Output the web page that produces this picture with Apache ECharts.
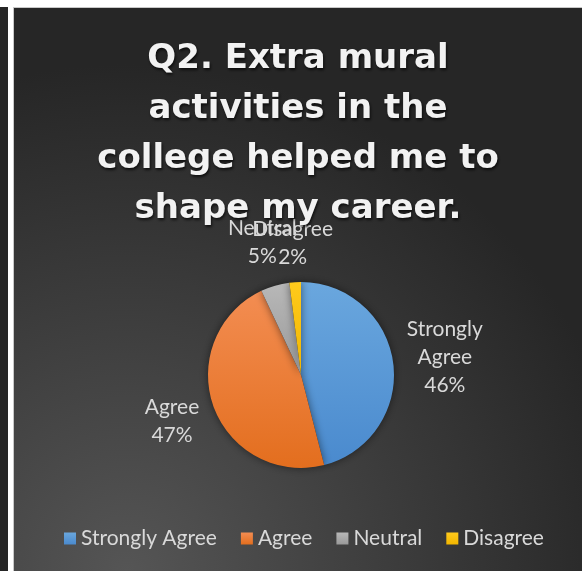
<!DOCTYPE html>
<html>
<head>
<meta charset="utf-8">
<script src="https://cdn.jsdelivr.net/npm/echarts@6/dist/echarts.min.js"></script>
<style>
  html, body { margin: 0; padding: 0; background: #fff; width: 582px; height: 571px; overflow: hidden; }
  #side { position: absolute; left: 0; top: 7px; width: 8px; height: 564px; background: #262626; }
  #chart { position: absolute; left: 13px; top: 7px; width: 568px; height: 563px;
           border-left: 1px solid #c8c8c8; border-top: 1px solid #c8c8c8; }
</style>
</head>
<body>
<div id="side"></div>
<div id="chart"></div>
<script>
const titleText = 'Q2. Extra mural\nactivities in the\ncollege helped me to\nshape my career.'
const categories = ['Strongly Agree', 'Agree', 'Neutral', 'Disagree']
const values = [46, 47, 5, 2]
const colorsTop = ['#6aa7de', '#f38d52', '#b8b8b8', '#ffca1c']
const colorsBottom = ['#4a8ace', '#e36e1e', '#999999', '#f2b600']

const CX = 287, CY = 367, R = 93, LABEL_GAP = 9
const total = values.reduce((a, b) => a + b, 0)

// mid angle of a slice, measured clockwise from 12 o'clock
function midAngle(i) {
  let s = 0
  for (let k = 0; k < i; k++) s += values[k]
  return (s + values[i] / 2) / total * Math.PI * 2
}

const myChart = echarts.init(document.getElementById('chart'))

const option = {
  backgroundColor: new echarts.graphic.RadialGradient(0.2, 1, 0.9, [
    { offset: 0, color: '#555555' },
    { offset: 1, color: '#262626' }
  ]),
  title: {
    text: titleText,
    left: 'center',
    top: 21,
    textStyle: {
      fontFamily: 'DejaVu Sans',
      fontSize: 34,
      fontWeight: 'bold',
      lineHeight: 50,
      color: '#f2f2f2',
      textShadowColor: 'rgba(0,0,0,0.7)',
      textShadowBlur: 3,
      textShadowOffsetX: 1,
      textShadowOffsetY: 2
    }
  },
  legend: {
    data: categories,
    left: 45,
    top: 515,
    icon: 'rect',
    itemWidth: 12,
    itemHeight: 12,
    itemGap: 24,
    textStyle: { fontFamily: 'Lato', fontSize: 21, color: '#d9d9d9' }
  },
  series: [{
    type: 'pie',
    center: [CX, CY],
    radius: R,
    startAngle: 90,
    clockwise: true,
    avoidLabelOverlap: false,
    itemStyle: {
      shadowColor: 'rgba(0,0,0,0.5)',
      shadowBlur: 8
    },
    label: {
      show: true,
      position: 'outside',
      fontFamily: 'Lato',
      fontSize: 21,
      lineHeight: 28,
      color: '#d9d9d9',
      formatter: (p) => p.name.replace(' ', '\n') + '\n' + p.percent + '%'
    },
    labelLine: { show: false },
    labelLayout: (p) => {
      const a = midAngle(p.dataIndex)
      const dx = Math.sin(a), dy = -Math.cos(a)
      const w = p.labelRect.width, h = p.labelRect.height
      const d = R + LABEL_GAP + Math.abs(dx) * w / 2 + Math.abs(dy) * h / 2
      return { x: CX + dx * d, y: CY + dy * d, align: 'center', verticalAlign: 'middle' }
    },
    data: categories.map((name, i) => ({
      name: name,
      value: values[i],
      itemStyle: {
        color: new echarts.graphic.LinearGradient(0, 0, 0, 1, [
          { offset: 0, color: colorsTop[i] },
          { offset: 1, color: colorsBottom[i] }
        ])
      }
    }))
  }]
}

myChart.setOption(option)
</script>
</body>
</html>
